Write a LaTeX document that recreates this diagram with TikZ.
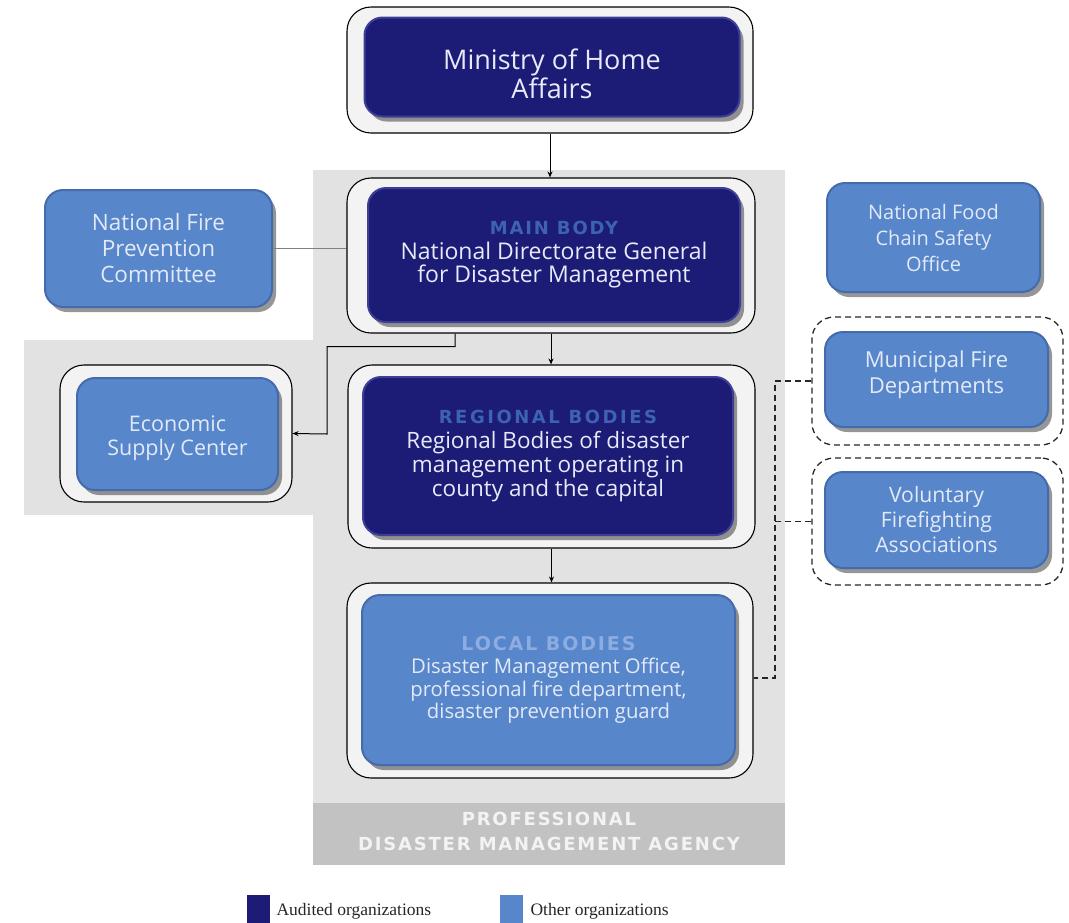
\documentclass[tikz,border=0pt]{standalone}
\usepackage{fontspec}
\setmainfont{Open Sans}
\newfontfamily\legfont{Liberation Serif}
\newfontfamily\widefont{DejaVu Sans}[LetterSpace=10]
\usetikzlibrary{arrows.meta,shadows}
\definecolor{navy}{RGB}{28,28,118}
\definecolor{navyedge}{RGB}{62,62,150}
\definecolor{lblue}{RGB}{88,134,202}
\definecolor{lblueedge}{RGB}{68,108,172}
\definecolor{panel}{RGB}{226,226,226}
\definecolor{band}{RGB}{194,194,194}
\definecolor{boxtext}{RGB}{232,234,250}
\definecolor{ltext}{RGB}{226,234,248}
\definecolor{ttl}{RGB}{62,98,178}
\definecolor{ttllight}{RGB}{140,172,226}
\definecolor{framefill}{RGB}{243,243,243}
\tikzset{
  frameO/.style={draw=black,line width=1.1pt,rounded corners=24pt,fill=framefill,inner sep=0pt},
  boxshadow/.style={drop shadow={shadow xshift=4pt,shadow yshift=-5pt,opacity=0.55,fill=black!75}},
  darkbox/.style={boxshadow,fill=navy,draw=navyedge,line width=2pt,rounded corners=18pt,inner sep=0pt,align=center,text=boxtext},
  lightbox/.style={boxshadow,fill=lblue,draw=lblueedge,line width=2pt,rounded corners=18pt,inner sep=0pt,align=center,text=ltext},
  boxlabel/.style={inner sep=0pt,align=center},
  dashframe/.style={draw=black!85,dash pattern=on 6pt off 4pt,line width=1.3pt,rounded corners=22pt,inner sep=0pt},
  conn/.style={draw=black,line width=1pt,-{Stealth[length=6pt,width=5pt]}},
  dconn/.style={draw=black!85,line width=1.3pt,dash pattern=on 6pt off 4pt},
  ttlfont/.style={font=\widefont\bfseries\fontsize{18}{20}\selectfont},
}
\begin{document}
\begin{tikzpicture}[x=1pt,y=-1pt]
\useasboundingbox (0,0) rectangle (1069,922);
% panels
\fill[panel] (313,170) rectangle (785,865);
\fill[panel] (24,340) rectangle (313,515);
\fill[band] (313,803) rectangle (785,865);
\node[ttlfont,text=framefill,align=center] (agency) at (549,831)
  {PROFESSIONAL\\[5pt]DISASTER MANAGEMENT AGENCY};

% Ministry
\node[frameO,minimum width=406pt,minimum height=126pt] (mhaO) at (550,70) {};
\node[darkbox,minimum width=375pt,minimum height=99pt] (mhaI) at (552,67) {};
\node[boxlabel,text=boxtext,font=\fontsize{27}{29}\selectfont] (mhaT) at (552,74)
  {Ministry of Home\\Affairs};

% Main body
\node[frameO,minimum width=408pt,minimum height=155pt] (mainO) at (551,255.5) {};
\node[darkbox,minimum width=372pt,minimum height=134pt,font=\fontsize{23}{23.5}\selectfont] (mainI) at (554,255)
  {{\widefont\bfseries\fontsize{18}{20}\selectfont\color{ttl}MAIN BODY}\\[1pt]
   National Directorate General\\for Disaster Management};

% Regional
\node[frameO,minimum width=407pt,minimum height=183pt] (regO) at (551.5,456.5) {};
\node[darkbox,minimum width=370pt,minimum height=158pt,font=\fontsize{22.5}{24}\selectfont] (regI) at (548,456)
  {{\widefont\bfseries\fontsize{18}{20}\selectfont\addfontfeature{LetterSpace=14}\color{ttl}REGIONAL BODIES}\\[1pt]
   Regional Bodies of disaster\\management operating in\\county and the capital};

% Local
\node[frameO,minimum width=406pt,minimum height=195pt] (locO) at (550,680.5) {};
\node[lightbox,minimum width=373pt,minimum height=170pt,font=\fontsize{20.3}{22.5}\selectfont] (locI) at (548.5,680)
  {{\widefont\bfseries\fontsize{19}{20}\selectfont\color{ttllight}LOCAL BODIES}\\[1pt]
   Disaster Management Office,\\professional fire department,\\disaster prevention guard};

% Left side
\node[lightbox,minimum width=227pt,minimum height=117pt,font=\fontsize{22.5}{26}\selectfont] (nfpc) at (158.5,248.5)
  {National Fire\\Prevention\\Committee};
\node[frameO,minimum width=232pt,minimum height=137pt] (ecoO) at (176,433.5) {};
\node[lightbox,minimum width=201pt,minimum height=112pt] (ecoI) at (177.5,434) {};
\node[boxlabel,text=ltext,font=\fontsize{21.5}{23.5}\selectfont] (ecoT) at (177.5,438)
  {Economic\\Supply Center};

% Right side
\node[lightbox,minimum width=213pt,minimum height=109pt,font=\fontsize{20}{26}\selectfont] (nfcso) at (933.5,237.5)
  {National Food\\Chain Safety\\Office};
\node[dashframe,minimum width=251pt,minimum height=128pt] (munD) at (937.5,381) {};
\node[lightbox,minimum width=223pt,minimum height=95pt,font=\fontsize{22}{26}\selectfont] (munI) at (936.5,379.5) {};
\node[boxlabel,text=ltext,font=\fontsize{22}{26}\selectfont] (munT) at (936.5,375)
  {Municipal Fire\\Departments};
\node[dashframe,minimum width=251pt,minimum height=127pt] (volD) at (937.5,521.5) {};
\node[lightbox,minimum width=223pt,minimum height=96pt,font=\fontsize{21.2}{25}\selectfont] (volI) at (936.5,520)
  {Voluntary\\Firefighting\\Associations};

% connectors
\draw[conn] (mhaO.south) -- (mhaO.south |- mainO.north);
\draw[conn] (mainO.south) -- (mainO.south |- regO.north);
\draw[conn] (regO.south) -- (regO.south |- locO.north);
\coordinate (ecoBend) at (327,434);
\draw[conn] ([xshift=-96pt]mainO.south) -- ++(0,13) -| (ecoBend) -- (ecoO.east);
\draw[draw=gray,line width=0.7pt] (nfpc.east) -- (nfpc.east -| mainO.west);
\coordinate (dv) at (775,678);
\draw[dconn] (munD.west) -| (dv) -- (locO.east |- dv);
\draw[dconn] (volD.west) -- (volD.west -| dv);

% legend
\node[fill=navy,minimum width=23pt,minimum height=30pt,inner sep=0pt] (legA) at (258.5,910) {};
\node[anchor=west,font=\legfont\fontsize{17.5}{20}\selectfont,text=black!85] (legAt) at (273,911) {Audited organizations};
\node[fill=lblue,minimum width=23pt,minimum height=30pt,inner sep=0pt] (legB) at (511.5,910) {};
\node[anchor=west,font=\legfont\fontsize{17.5}{20}\selectfont,text=black!85] (legBt) at (527,911) {Other organizations};
\end{tikzpicture}
\end{document}
